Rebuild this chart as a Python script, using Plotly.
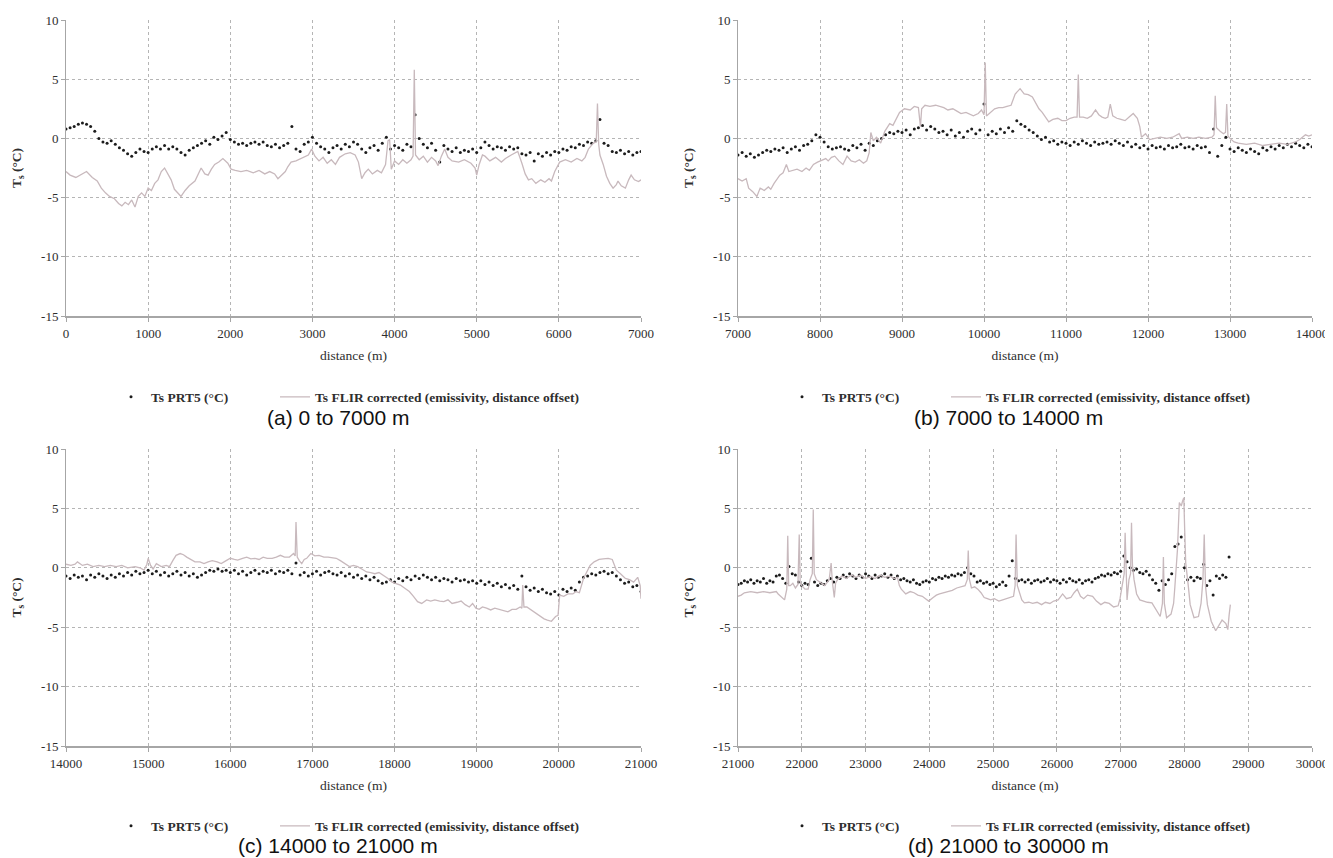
import plotly.graph_objects as go

# ---------------- DATA ----------------
STEP = 50  # PRT5 sample spacing (m)

# PRT5 surface temperature (°C), one value every 50 m
prt5_a_start = 0
prt5_a = [
    0.8, 0.9, 1.0, 1.2, 1.3, 1.2, 1.0, 0.6, 0.0, -0.3,
    -0.4, -0.2, -0.5, -0.8, -1.0, -1.3, -1.5, -1.2, -0.9, -1.1,
    -1.2, -0.9, -0.7, -0.9, -0.6, -0.9, -0.7, -0.9, -1.2, -1.4,
    -1.0, -0.8, -0.6, -0.4, -0.2, -0.5, 0.1, -0.1, 0.2, 0.5,
    -0.1, -0.3, -0.5, -0.4, -0.6, -0.4, -0.3, -0.5, -0.3, -0.6,
    -0.7, -0.5, -0.8, -0.6, -0.4, 1.0, -0.9, -1.1, -0.5, -0.3,
    0.1, -0.4, -0.7, -0.9, -1.2, -0.8, -0.6, -0.9, -0.5, -0.7,
    -0.3, -0.5, -0.9, -1.2, -0.8, -0.6, -1.0, -0.4, 0.1, -0.9,
    -0.6, -0.8, -1.0, -0.5, -0.7, 2.0, 0.0, -0.5, -0.8, -0.4,
    -1.0, -2.0, -0.6, -0.9, -1.1, -0.8, -1.2, -1.0, -1.1, -0.9,
    -1.2, -0.8, -0.3, -0.6, -0.9, -0.7, -0.8, -1.0, -0.7, -0.9,
    -0.8, -1.3, -1.4, -1.2, -1.9, -1.3, -1.5, -1.2, -1.4, -1.1,
    -1.2, -0.9, -1.0, -0.7, -0.8, -0.5, -0.6, -0.3, -0.4, -0.2,
    1.6, -0.4, -0.6, -1.1, -1.2, -1.0, -1.3, -1.1, -1.4, -1.2,
    -1.1,
]

prt5_b_start = 7000
prt5_b = [
    -1.4, -1.2, -1.5, -1.3, -1.6, -1.4, -1.2, -1.0, -1.1, -0.9,
    -1.0, -0.8, -1.2, -0.9, -0.7, -1.0, -0.6, -0.5, -0.2, 0.3,
    0.1, -0.3, -0.7, -0.9, -0.8, -0.7, -0.9, -1.0, -0.6, -0.8,
    -0.5, -1.0, -0.4, -0.6, -0.2, 0.0, 0.3, 0.5, 0.4, 0.6,
    0.5, 0.7, 0.3, 0.8, 0.9, 1.1, 0.7, 1.0, 0.8, 0.5,
    0.6, 0.3, 0.7, 0.2, 0.5, 0.1, 0.6, 0.8, 0.4, 0.7,
    2.9, 0.3, 0.6, 0.4, 0.8, 0.5, 0.9, 0.6, 1.5, 1.2,
    1.0, 0.7, 0.5, 0.2, -0.1, 0.1, -0.3, -0.2, -0.5, -0.3,
    -0.4, -0.6, -0.3, -0.5, -0.2, -0.4, -0.6, -0.3, -0.5, -0.4,
    -0.3, -0.5, -0.2, -0.4, -0.6, -0.3, -0.7, -0.5, -0.8, -0.6,
    -0.9, -0.6, -0.8, -0.7, -0.9, -0.6, -0.8, -0.7, -0.5, -0.8,
    -0.7, -0.9, -0.6, -0.8, -0.7, -1.2, 0.8, -1.5, -0.6, 0.1,
    -0.9, -1.1, -0.8, -1.0, -1.2, -0.9, -1.1, -1.3, -0.8, -1.0,
    -0.7, -0.9, -0.6, -0.8, -0.5, -0.7, -0.4, -0.6, -0.8, -0.5,
    -0.7,
]

prt5_c_start = 14000
prt5_c = [
    -0.7, -0.9, -0.6, -0.8, -0.7, -1.0, -0.6, -0.8, -0.5, -0.7,
    -0.9, -0.6, -0.8, -0.5, -0.7, -0.4, -0.6, -0.3, -0.5, -0.4,
    -0.2, -0.5, -0.3, -0.6, -0.4, -0.7, -0.5, -0.3, -0.6, -0.4,
    -0.7, -0.5, -0.8, -0.6, -0.4, -0.2, -0.3, -0.1, -0.3, -0.2,
    -0.4, -0.2, -0.5, -0.3, -0.6, -0.4, -0.2, -0.5, -0.3, -0.4,
    -0.2, -0.5, -0.3, -0.4, -0.2, -0.5, 0.4, -0.6, -0.4, -0.7,
    -0.5, -0.3, -0.6, -0.4, -0.3, -0.5, -0.6, -0.4, -0.7, -0.5,
    -0.8, -0.6, -0.9, -0.7, -1.0, -0.8, -1.1, -1.3, -1.2, -1.0,
    -1.2, -0.9, -1.1, -0.8, -1.0, -0.7, -0.9, -0.6, -0.8, -1.0,
    -0.8, -1.1, -0.9, -1.0, -1.2, -0.9, -1.1, -1.0, -1.2, -1.1,
    -1.3, -1.1, -1.4, -1.2, -1.5, -1.3, -1.6, -1.4, -1.7, -1.5,
    -1.8, -0.7, -1.6, -1.9, -1.7, -2.0, -1.8, -2.1, -2.2, -2.0,
    -2.3, -1.8, -2.0, -1.7, -1.9, -1.2, -0.8, -0.7, -0.5, -0.6,
    -0.4, -0.3, -0.5, -0.4, -0.7, -1.0, -1.3, -1.2, -1.6, -1.5,
    -2.0,
]

prt5_d_start = 21000
prt5_d = [
    -1.4, -1.3, -1.1, -1.2, -1.0, -1.3, -1.1, -1.2, -0.9, -1.3,
    -1.1, -1.2, -0.7, -0.6, -0.9, -1.3, 0.1, -0.5, -0.6, -1.2,
    -1.5, -1.3, -1.4, 0.8, -1.2, -1.5, -1.3, -1.4, -1.1, -0.9,
    -1.2, -0.8, -0.9, -0.6, -0.8, -0.5, -0.7, -0.9, -0.6, -0.8,
    -0.5, -0.7, -0.9, -0.6, -0.8, -0.7, -0.5, -0.8, -0.6, -0.9,
    -0.7, -1.0, -0.9, -1.1, -1.2, -1.0, -1.3, -1.4, -1.2, -1.1,
    -1.2, -0.9, -1.0, -0.8, -0.9, -0.7, -0.8, -0.6, -0.7, -0.5,
    -0.6, -0.4, 0.0, -0.5, -0.7, -1.2, -1.1, -1.3, -1.2, -1.4,
    -1.3, -1.6, -1.4, -1.2, -1.5, -0.7, 0.6, -0.9, -1.1, -1.0,
    -1.2, -1.0, -1.3, -1.1, -1.0, -1.2, -1.1, -0.9, -1.2, -1.0,
    -1.1, -1.3, -1.0, -1.2, -0.9, -1.1, -1.2, -1.0, -1.3, -1.1,
    -1.0, -1.2, -0.9, -0.8, -0.6, -0.7, -0.5, -0.6, -0.4, -0.5,
    -0.3, 1.0, 0.5, 0.0, -0.2, -0.1, -0.4, -0.5, -0.3, -0.6,
    -1.0, -1.3, -1.9, -1.1, -1.4, -1.0, -0.5, 1.8, 2.0, 2.6,
    0.0, -1.0, -0.8, -1.1, -0.8, -0.9, 0.3, -1.5, -1.1, -2.3,
    -0.7, -0.9, -0.6, -0.8, 0.9,
]

# FLIR corrected surface temperature: (distance m, °C)
flir_a = [
    (0, -2.8), (50, -3.1), (120, -3.3), (200, -3.0), (250, -2.8), (320, -3.3), (380, -3.6),
    (430, -4.2), (480, -4.6), (530, -4.9), (590, -5.1), (640, -5.5), (680, -5.7), (720, -5.4),
    (760, -5.6), (800, -5.2), (840, -5.8), (880, -4.9), (920, -4.6), (960, -4.9), (1000, -4.2),
    (1040, -4.4), (1080, -3.8), (1120, -3.5), (1160, -2.8), (1200, -2.5), (1240, -3.0),
    (1280, -3.5), (1320, -4.3), (1360, -4.6), (1400, -4.9), (1450, -4.4), (1500, -4.0),
    (1570, -3.6), (1610, -3.0), (1645, -2.5), (1690, -3.0), (1730, -3.1), (1770, -2.6),
    (1810, -2.2), (1860, -2.0), (1910, -1.7), (1970, -2.1), (2010, -2.6), (2060, -2.7),
    (2130, -2.8), (2200, -2.7), (2280, -2.9), (2350, -2.7), (2420, -3.0), (2480, -2.8),
    (2540, -3.0), (2580, -3.4), (2630, -3.1), (2670, -2.8), (2700, -2.4), (2740, -2.0),
    (2800, -1.9), (2860, -1.7), (2950, -1.4), (2990, -0.9), (3030, -1.5), (3080, -1.9),
    (3130, -1.6), (3180, -2.1), (3230, -1.8), (3280, -2.2), (3330, -1.6), (3400, -1.3),
    (3460, -1.2), (3520, -1.4), (3560, -2.0), (3600, -3.4), (3640, -2.9), (3680, -2.6),
    (3730, -3.0), (3790, -2.7), (3840, -2.9), (3890, -2.2), (3920, -0.2), (3940, -0.1),
    (3960, -2.6), (4000, -1.9), (4050, -2.2), (4100, -1.8), (4150, -2.1), (4200, -1.8),
    (4225, -1.5), (4240, 5.8), (4255, -1.4), (4300, -1.8), (4350, -1.5), (4400, -2.0),
    (4450, -1.6), (4500, -1.9), (4530, -2.3), (4570, -1.5), (4610, -0.9), (4650, -1.6),
    (4700, -1.9), (4780, -2.0), (4850, -1.8), (4930, -2.1), (4980, -2.5), (5000, -3.1),
    (5030, -2.2), (5070, -1.4), (5100, -1.5), (5160, -1.9), (5230, -1.6), (5300, -2.0),
    (5350, -1.7), (5420, -1.4), (5500, -1.1), (5550, -2.1), (5590, -3.0), (5630, -3.5),
    (5670, -3.4), (5720, -3.8), (5780, -3.5), (5830, -3.7), (5880, -3.4), (5910, -3.6),
    (5950, -2.8), (6010, -2.0), (6080, -1.8), (6150, -2.0), (6220, -1.7), (6280, -1.9),
    (6320, -1.6), (6360, -0.9), (6420, -0.4), (6455, -0.3), (6470, 2.95), (6485, -0.5),
    (6500, -1.4), (6540, -2.2), (6580, -3.2), (6620, -3.8), (6660, -4.2), (6700, -3.9),
    (6720, -3.6), (6760, -4.0), (6810, -4.2), (6850, -3.5), (6880, -3.1), (6920, -3.5),
    (6970, -3.65), (7000, -3.5),
]

flir_b = [
    (7000, -3.4), (7050, -3.6), (7100, -3.4), (7130, -4.2), (7180, -4.5), (7230, -4.9),
    (7270, -4.2), (7320, -4.4), (7370, -4.1), (7400, -4.3), (7440, -3.8), (7480, -3.4),
    (7510, -3.1), (7550, -2.9), (7590, -2.2), (7620, -2.8), (7660, -2.7), (7720, -2.6),
    (7780, -2.8), (7830, -2.5), (7870, -2.7), (7920, -2.2), (7970, -2.0), (8030, -1.8),
    (8070, -1.7), (8100, -1.9), (8140, -1.6), (8180, -1.5), (8230, -1.9), (8280, -2.2),
    (8330, -1.5), (8380, -1.9), (8430, -2.0), (8480, -1.8), (8530, -2.1), (8570, -1.9),
    (8600, -1.2), (8620, 0.5), (8650, -0.2), (8690, 0.1), (8740, -0.4), (8790, 0.6),
    (8850, 1.25), (8890, 1.1), (8920, 1.5), (8970, 2.2), (9030, 2.5), (9100, 2.4),
    (9150, 2.7), (9200, 2.6), (9225, 1.0), (9240, 2.5), (9280, 2.8), (9340, 2.7),
    (9410, 2.8), (9460, 2.7), (9510, 2.6), (9560, 2.4), (9620, 2.5), (9670, 2.3),
    (9720, 2.1), (9780, 2.2), (9830, 2.0), (9870, 1.9), (9930, 2.1), (9970, 2.4),
    (10000, 2.0), (10015, 6.4), (10030, 1.9), (10080, 2.2), (10130, 2.5), (10180, 2.6),
    (10230, 2.6), (10280, 2.7), (10330, 2.8), (10380, 3.75), (10440, 4.2), (10490, 3.75),
    (10540, 3.7), (10590, 3.5), (10630, 3.0), (10670, 2.5), (10710, 2.2), (10740, 1.9),
    (10790, 1.4), (10840, 1.6), (10900, 1.7), (10950, 1.5), (11000, 1.5), (11050, 1.7),
    (11100, 1.8), (11135, 1.8), (11150, 5.4), (11165, 1.8), (11210, 1.8), (11260, 1.7),
    (11310, 1.9), (11360, 2.4), (11400, 2.0), (11440, 1.8), (11480, 1.7), (11510, 1.8),
    (11540, 2.9), (11570, 1.9), (11620, 1.7), (11670, 1.6), (11720, 1.5), (11770, 1.8),
    (11820, 2.1), (11870, 1.7), (11900, 1.0), (11920, 0.1), (11970, 0.4), (12020, -0.1),
    (12080, 0.0), (12150, 0.1), (12230, 0.0), (12300, 0.1), (12380, 0.4), (12410, 0.0),
    (12480, 0.1), (12550, 0.0), (12620, 0.1), (12700, 0.0), (12780, 0.1), (12805, 0.3),
    (12820, 3.6), (12835, 0.9), (12880, 0.6), (12920, 0.4), (12945, 0.5), (12960, 2.9),
    (12975, 0.2), (13000, 0.0), (13050, -0.3), (13100, -0.4), (13200, -0.5), (13300, -0.4),
    (13400, -0.6), (13500, -0.5), (13600, -0.4), (13700, -0.5), (13800, -0.3), (13850, -0.1),
    (13920, 0.3), (13960, 0.2), (14000, 0.3),
]

flir_c = [
    (14000, 0.3), (14060, 0.2), (14110, 0.3), (14140, 0.5), (14200, 0.2), (14260, 0.3),
    (14330, 0.1), (14400, 0.2), (14470, 0.1), (14540, 0.2), (14610, 0.1), (14680, 0.2),
    (14750, 0.0), (14840, 0.1), (14900, 0.0), (14950, -0.2), (14985, 0.3), (15000, 0.8),
    (15030, 0.2), (15060, -0.1), (15100, 0.35), (15160, 0.1), (15220, 0.2), (15260, 0.1),
    (15300, 0.6), (15340, 1.05), (15390, 1.2), (15430, 1.1), (15470, 0.9), (15520, 0.7),
    (15570, 0.5), (15630, 0.5), (15680, 0.35), (15730, 0.5), (15780, 0.6), (15840, 0.5),
    (15890, 0.35), (15950, 0.6), (16000, 0.8), (16050, 0.7), (16090, 0.65), (16150, 0.8),
    (16200, 0.9), (16250, 0.75), (16300, 0.8), (16350, 0.7), (16400, 0.9), (16450, 0.8),
    (16510, 0.8), (16560, 0.9), (16610, 1.05), (16660, 0.9), (16720, 0.9), (16770, 1.2),
    (16790, 1.0), (16800, 3.85), (16815, 0.9), (16840, 0.6), (16870, 0.35), (16900, 0.7),
    (16930, 0.8), (16980, 1.2), (17030, 1.0), (17080, 1.05), (17140, 0.9), (17190, 0.9),
    (17240, 0.85), (17290, 0.8), (17340, 0.6), (17400, 0.35), (17450, 0.1), (17500, 0.2),
    (17550, 0.1), (17600, -0.1), (17660, -0.35), (17710, -0.4), (17760, -0.5), (17810, -0.4),
    (17860, -0.6), (17920, -0.9), (17970, -1.2), (18020, -1.3), (18070, -1.45), (18120, -1.7),
    (18180, -2.0), (18230, -2.4), (18280, -2.85), (18330, -3.0), (18390, -2.7), (18440, -2.8),
    (18490, -2.7), (18550, -2.8), (18600, -2.85), (18650, -2.7), (18700, -3.0), (18760, -2.9),
    (18810, -2.8), (18860, -3.1), (18910, -3.3), (18950, -3.0), (18990, -3.4), (19030, -3.5),
    (19070, -3.3), (19120, -3.4), (19170, -3.55), (19220, -3.4), (19270, -3.5), (19320, -3.6),
    (19380, -3.7), (19430, -3.5), (19480, -3.5), (19530, -3.3), (19550, -3.4), (19560, -1.45),
    (19575, -3.3), (19610, -3.3), (19650, -3.5), (19690, -3.7), (19730, -3.9), (19770, -4.1),
    (19820, -4.3), (19860, -4.4), (19910, -4.5), (19960, -4.1), (19990, -4.0), (20010, -2.3),
    (20060, -2.4), (20110, -2.2), (20170, -2.2), (20210, -2.0), (20250, -2.1), (20300, -0.9),
    (20340, -0.4), (20380, 0.2), (20430, 0.5), (20490, 0.7), (20540, 0.75), (20600, 0.8),
    (20650, 0.7), (20700, -0.2), (20750, -0.5), (20810, -0.9), (20860, -1.0), (20910, -1.2),
    (20960, -0.8), (20990, -1.5), (21000, -2.6),
]

flir_d = [
    (21000, -2.4), (21050, -2.3), (21100, -2.1), (21200, -2.0), (21300, -2.1), (21400, -2.0),
    (21500, -2.1), (21600, -2.0), (21630, -2.2), (21670, -2.4), (21730, -2.7), (21765, -1.8),
    (21780, 2.7), (21795, -1.5), (21820, -1.5), (21860, -1.3), (21900, -1.7), (21940, -1.4),
    (21960, 2.8), (21975, -1.2), (22000, -1.5), (22050, -1.8), (22100, -1.8), (22130, -1.0),
    (22165, -0.5), (22180, 4.9), (22195, -0.5), (22230, -1.0), (22300, -1.3), (22360, -1.5),
    (22430, -1.0), (22460, 0.4), (22480, -1.2), (22510, -2.5), (22530, -1.3), (22560, -1.0),
    (22630, -0.7), (22700, -0.9), (22780, -0.6), (22850, -0.8), (22920, -0.6), (23000, -0.9),
    (23080, -0.7), (23150, -0.9), (23230, -0.6), (23300, -0.8), (23380, -0.7), (23450, -0.9),
    (23500, -0.8), (23530, -1.5), (23560, -1.8), (23630, -2.2), (23700, -2.0), (23760, -2.1),
    (23820, -2.3), (23890, -2.4), (23940, -2.6), (23990, -2.8), (24060, -2.5), (24110, -2.3),
    (24160, -2.2), (24220, -2.1), (24290, -2.0), (24360, -1.9), (24430, -1.7), (24500, -1.6),
    (24560, -1.5), (24595, -1.0), (24610, 1.45), (24625, -0.9), (24660, -1.7), (24710, -1.6),
    (24760, -1.8), (24810, -2.1), (24860, -2.5), (24910, -2.6), (24960, -2.7), (25020, -2.6),
    (25090, -2.8), (25150, -2.7), (25220, -2.6), (25280, -2.5), (25320, -2.4), (25345, -1.5),
    (25360, 2.8), (25380, -1.5), (25410, -2.0), (25450, -2.7), (25490, -2.95), (25560, -2.9),
    (25620, -3.0), (25690, -2.9), (25760, -3.1), (25820, -2.9), (25890, -3.0), (25950, -2.8),
    (26020, -2.7), (26060, -2.4), (26090, -2.2), (26150, -2.6), (26220, -2.5), (26270, -2.1),
    (26320, -1.8), (26370, -2.4), (26420, -2.6), (26480, -2.3), (26560, -2.4), (26620, -2.8),
    (26690, -3.1), (26750, -2.9), (26820, -3.0), (26890, -3.3), (26960, -3.2), (26990, -2.6),
    (27020, -1.7), (27055, -0.5), (27070, 2.95), (27085, -0.8), (27100, -2.7), (27130, -1.0),
    (27155, -0.5), (27170, 3.8), (27185, 0.2), (27210, -1.0), (27250, -2.2), (27300, -2.7),
    (27350, -2.8), (27420, -2.9), (27490, -2.95), (27550, -3.5), (27620, -4.1), (27655, -3.0),
    (27670, 0.9), (27685, -3.0), (27720, -4.2), (27790, -3.9), (27830, -3.0), (27850, -1.6),
    (27890, 1.5), (27920, 5.5), (27950, 5.2), (27970, 5.6), (27990, 5.9), (28005, 3.0),
    (28020, 0.4), (28060, -1.5), (28090, -3.1), (28150, -4.2), (28220, -4.1), (28260, -3.0),
    (28290, -1.0), (28310, 2.8), (28330, -1.5), (28360, -3.1), (28420, -4.5), (28490, -5.3),
    (28540, -4.8), (28590, -4.4), (28650, -4.7), (28680, -5.2), (28700, -4.0), (28720, -3.1),
]

x_ranges = {"a": (0, 7000), "b": (7000, 14000), "c": (14000, 21000), "d": (21000, 30000)}
y_tickvals = [-15, -10, -5, 0, 5, 10]
y_ticktext = ["-15", "-10", "-5", "0", "5", "10"]
captions = {"a": "(a) 0 to 7000 m", "b": "(b) 7000 to 14000 m",
            "c": "(c) 14000 to 21000 m", "d": "(d) 21000 to 30000 m"}
prt5_name = "Ts PRT5 (°C)"
flir_name = "Ts FLIR corrected (emissivity, distance offset)"

# ---------------- LAYOUT ----------------
W, H = 1333, 858
def px_x(p): return p / W
def px_y(p): return 1 - p / H

panels = {
    #      x0   x1   ytop ybot  leg1-x leg2-x caption-x legend-y caption-y
    "a": (58, 633, 12, 308, 103, 267, 330, 389, 409),
    "b": (730, 1304, 12, 308, 774, 938, 1000, 389, 409),
    "c": (58, 633, 441, 738, 103, 267, 330, 818, 837),
    "d": (730, 1304, 441, 738, 774, 938, 1000, 818, 837),
}
prt5_sets = {"a": (prt5_a_start, prt5_a), "b": (prt5_b_start, prt5_b),
             "c": (prt5_c_start, prt5_c), "d": (prt5_d_start, prt5_d)}
flir_sets = {"a": flir_a, "b": flir_b, "c": flir_c, "d": flir_d}

SERIF = "Liberation Serif"
AX_COL = "#a6a6a6"
GRID_COL = "#b5b5b5"
TXT_COL = "#2e2e2e"
FLIR_COL = "#c8b9bd"

fig = go.Figure()
annotations = []
layout_extra = {}

for i, key in enumerate(["a", "b", "c", "d"]):
    n = i + 1
    xa = "x" if n == 1 else f"x{n}"
    ya = "y" if n == 1 else f"y{n}"
    leg1 = "legend" if n == 1 else f"legend{2 * n - 1}"
    leg2 = f"legend{2 * n}"
    x0, x1, yt, yb, l1x, l2x, cx, ly, cy = panels[key]

    start, vals = prt5_sets[key]
    px = [start + STEP * k for k in range(len(vals))]
    fig.add_trace(go.Scatter(
        x=px, y=vals, mode="markers", name=prt5_name, showlegend=True,
        marker=dict(size=3, color="#1c1c1c", symbol="circle", line=dict(width=0)),
        xaxis=xa, yaxis=ya, legend=leg1,
    ))
    fx = [p[0] for p in flir_sets[key]]
    fy = [p[1] for p in flir_sets[key]]
    fig.add_trace(go.Scatter(
        x=fx, y=fy, mode="lines", name=flir_name, showlegend=True,
        line=dict(color=FLIR_COL, width=1.3),
        xaxis=xa, yaxis=ya, legend=leg2,
    ))

    xr = x_ranges[key]
    layout_extra["xaxis" if n == 1 else f"xaxis{n}"] = dict(
        domain=[px_x(x0), px_x(x1)], anchor=ya, range=list(xr), automargin=False,
        tick0=xr[0], dtick=1000, tickformat="d",
        showgrid=True, gridcolor=GRID_COL, griddash="dot",
        gridwidth=1, zeroline=False, showline=True, linecolor=AX_COL, linewidth=2,
        ticks="outside", ticklen=4, tickcolor=AX_COL,
        tickfont=dict(family=SERIF, size=13, color=TXT_COL),
        title=dict(text="distance (m)", standoff=11,
                   font=dict(family=SERIF, size=13.5, color=TXT_COL)),
    )
    layout_extra["yaxis" if n == 1 else f"yaxis{n}"] = dict(
        domain=[px_y(yb), px_y(yt)], anchor=xa, range=[-15, 10], automargin=False,
        tickmode="array", tickvals=y_tickvals, ticktext=y_ticktext,
        showgrid=True, gridcolor=GRID_COL, griddash="dot",
        gridwidth=1, zeroline=False, showline=True, linecolor=AX_COL, linewidth=1,
        ticks="outside", ticklen=4, tickcolor=AX_COL,
        tickfont=dict(family=SERIF, size=13, color=TXT_COL),
        title=dict(text="<b>T<sub>s</sub> (°C)</b>", standoff=16,
                   font=dict(family=SERIF, size=13.5, color=TXT_COL)),
    )
    for lg, lxp in ((leg1, l1x), (leg2, l2x)):
        layout_extra[lg] = dict(
            orientation="h", x=px_x(lxp), y=px_y(ly), xanchor="left", yanchor="middle",
            font=dict(family=SERIF, size=13.5, color=TXT_COL, weight="bold"),
            bgcolor="rgba(0,0,0,0)", itemwidth=30,
        )
    annotations.append(dict(
        text=captions[key], xref="paper", yref="paper", x=px_x(cx), y=px_y(cy),
        xanchor="center", yanchor="middle", showarrow=False,
        font=dict(family="Liberation Sans", size=21, color="#111111"),
    ))

fig.update_layout(
    width=W, height=H, margin=dict(l=0, r=0, t=0, b=0, autoexpand=False),
    paper_bgcolor="white", plot_bgcolor="white", showlegend=True,
    font=dict(family=SERIF, size=12, color=TXT_COL),
    annotations=annotations, **layout_extra,
)

fig.write_html("out.html")
